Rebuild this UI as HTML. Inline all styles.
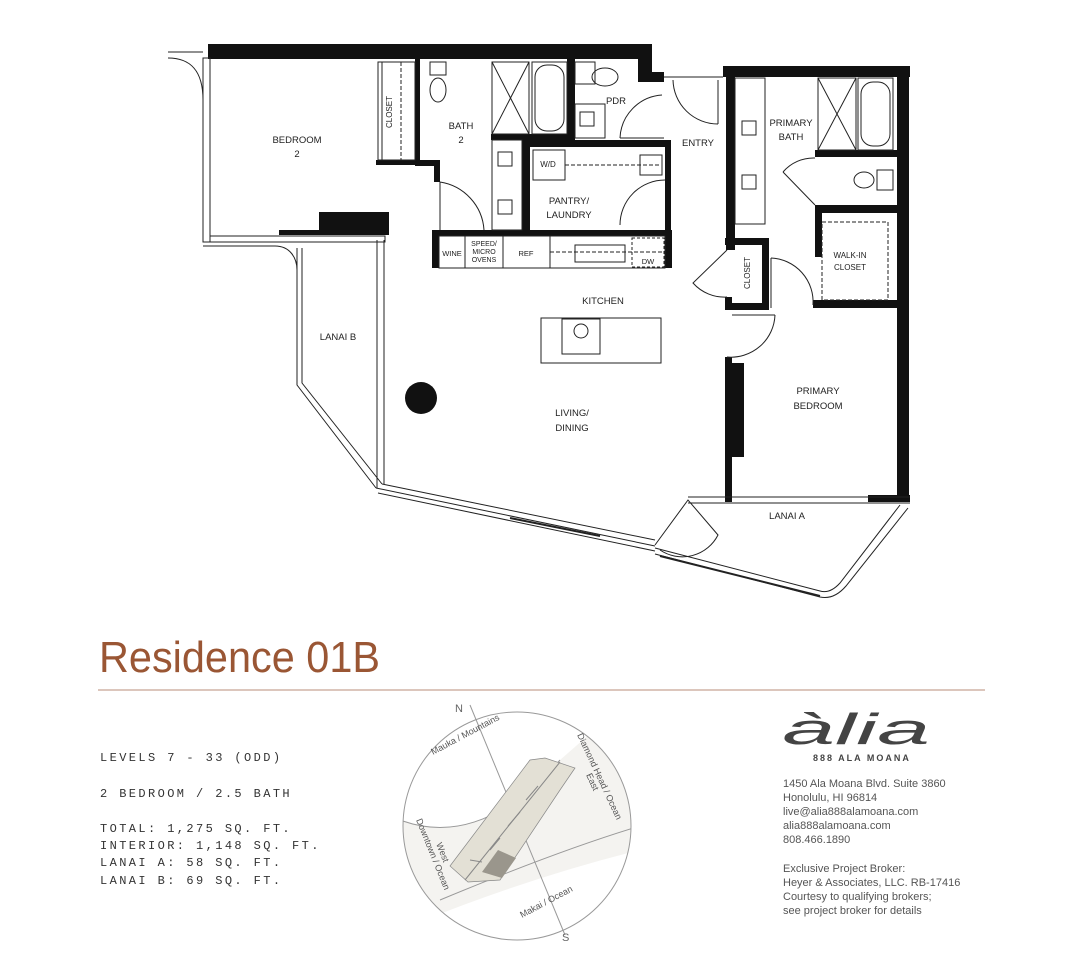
<!DOCTYPE html>
<html><head><meta charset="utf-8"><style>
html,body{margin:0;padding:0;background:#fff;}
svg{display:block;}
text{font-family:"Liberation Sans",sans-serif;}
.l{font-size:9.5px;fill:#222;text-anchor:middle;}
.m{font-family:"Liberation Mono",monospace;font-size:12px;letter-spacing:2.4px;fill:#333;}
.a{font-size:11px;fill:#555;}
</style></head><body>
<svg width="1080" height="966" viewBox="0 0 1080 966" xmlns="http://www.w3.org/2000/svg">
<rect width="1080" height="966" fill="#fff"/>
<g fill="#111">
<rect x="208" y="44" width="444" height="15"/>
<rect x="638" y="44" width="14" height="38"/>
<rect x="638" y="72" width="26" height="10"/>
<rect x="415" y="58" width="5" height="107"/>
<rect x="415" y="160" width="25" height="6"/>
<rect x="434" y="160" width="6" height="22"/>
<rect x="376" y="160" width="40" height="5"/>
<rect x="491" y="134" width="80" height="6"/>
<rect x="522" y="138" width="8" height="96"/>
<rect x="567" y="58" width="8" height="82"/>
<rect x="530" y="140" width="140" height="7"/>
<rect x="665" y="140" width="6" height="95"/>
<rect x="432" y="230" width="240" height="6"/>
<rect x="432" y="236" width="7" height="32"/>
<rect x="665" y="236" width="7" height="32"/>
<rect x="319" y="212" width="70" height="23"/>
<rect x="279" y="230" width="42" height="5"/>
<rect x="723" y="66" width="187" height="11"/>
<rect x="897" y="66" width="12" height="434"/>
<rect x="726" y="77" width="9" height="173"/>
<rect x="725" y="238" width="44" height="7"/>
<rect x="762" y="238" width="7" height="72"/>
<rect x="725" y="297" width="7" height="13"/>
<rect x="725" y="303" width="44" height="7"/>
<rect x="815" y="150" width="82" height="7"/>
<rect x="815" y="205" width="82" height="8"/>
<rect x="815" y="213" width="7" height="44"/>
<rect x="813" y="300" width="84" height="8"/>
<rect x="725" y="357" width="7" height="145"/>
<rect x="732" y="363" width="12" height="94"/>
<rect x="868" y="495" width="42" height="7"/>
<circle cx="421" cy="398" r="16"/>
</g>
<g fill="none" stroke="#222" stroke-width="1">
<rect x="203" y="58" width="7" height="184"/>
<path d="M203 242H385V236H210"/>
<path d="M168 52H203 M168 58C190 58 203 70 203 100"/>
<path d="M203 246H275C290 246 297 258 297 270"/>
<rect x="378" y="62" width="37" height="98"/>
<line x1="382" y1="62" x2="382" y2="160"/>
<line x1="401" y1="62" x2="401" y2="160" stroke-dasharray="4 2"/>
<ellipse cx="438" cy="90" rx="8" ry="12"/><rect x="430" y="62" width="16" height="13"/>
<rect x="492" y="62" width="37" height="72"/><path d="M492 62L529 134M529 62L492 134"/>
<rect x="532" y="62" width="35" height="72"/><rect x="535" y="65" width="29" height="66" rx="12"/>
<rect x="492" y="140" width="30" height="90"/>
<rect x="498" y="152" width="14" height="14"/><rect x="498" y="200" width="14" height="14"/>
<path d="M440 182A52 52 0 0 1 484 230"/><line x1="440" y1="182" x2="440" y2="230"/>
<rect x="575" y="62" width="20" height="22"/><ellipse cx="605" cy="77" rx="13" ry="9"/>
<rect x="575" y="104" width="30" height="34"/><rect x="580" y="112" width="14" height="14"/>
<path d="M620 138A45 45 0 0 1 662 95"/><line x1="620" y1="138" x2="664" y2="138"/>
<rect x="533" y="150" width="32" height="30"/>
<line x1="565" y1="165" x2="660" y2="165" stroke-dasharray="4 2"/>
<rect x="640" y="155" width="22" height="20"/>
<path d="M620 225A45 45 0 0 1 665 180"/>
<rect x="439" y="236" width="226" height="32"/>
<line x1="465" y1="236" x2="465" y2="268"/><line x1="503" y1="236" x2="503" y2="268"/>
<line x1="550" y1="236" x2="550" y2="268"/>
<line x1="550" y1="252" x2="665" y2="252" stroke-dasharray="4 2"/>
<rect x="575" y="245" width="50" height="17"/>
<rect x="632" y="238" width="32" height="29" stroke-dasharray="3 2"/>
<path d="M673 80A45 45 0 0 0 718 124"/><line x1="718" y1="80" x2="718" y2="124"/><line x1="664" y1="77" x2="723" y2="77"/>
<rect x="735" y="78" width="30" height="146"/>
<rect x="742" y="121" width="14" height="14"/><rect x="742" y="175" width="14" height="14"/>
<rect x="818" y="78" width="38" height="72"/><path d="M818 78L856 150M856 78L818 150"/>
<rect x="858" y="78" width="35" height="72"/><rect x="861" y="82" width="29" height="64" rx="12"/>
<ellipse cx="864" cy="180" rx="10" ry="8"/><rect x="877" y="170" width="16" height="20"/>
<path d="M783 172A40 40 0 0 1 815 158"/><line x1="783" y1="172" x2="815" y2="205"/>
<rect x="822" y="222" width="66" height="78" stroke-dasharray="4 2"/>
<path d="M727 250L693 283A42 42 0 0 0 727 297"/>
<path d="M771 258A44 44 0 0 1 813 305"/><line x1="771" y1="258" x2="771" y2="308"/>
<path d="M775 315A44 44 0 0 1 727 357"/><line x1="732" y1="315" x2="775" y2="315"/>
<rect x="541" y="318" width="120" height="45"/>
<rect x="562" y="319" width="38" height="35"/><ellipse cx="581" cy="331" rx="7" ry="7"/>
<path d="M297 248V385L376 488M302 248V383L382 484"/>
<path d="M377 240V488M384 240V484"/>
<path d="M376 488L655 546M382 484L655 540M378 493L655 551"/>
<path d="M655 548L820 591Q830 594 840 583L900 505M655 554L820 597Q834 600 846 586L908 508"/>
<path d="M688 497H910M688 503H910"/>
<path d="M655 545L688 500L718 535A40 40 0 0 1 660 550"/>
</g>
<g stroke="#222" stroke-width="2" fill="none"><path d="M510 518L600 536M660 556L820 596"/></g>
<text class="l" x="297" y="143">BEDROOM</text><text class="l" x="297" y="157">2</text>
<text class="l" x="461" y="129">BATH</text><text class="l" x="461" y="143">2</text>
<text class="l" x="616" y="104">PDR</text>
<text class="l" x="698" y="146">ENTRY</text>
<text class="l" x="791" y="126">PRIMARY</text><text class="l" x="791" y="140">BATH</text>
<text class="l" x="569" y="204">PANTRY/</text><text class="l" x="569" y="218">LAUNDRY</text>
<text class="l" x="548" y="167" style="font-size:8px">W/D</text>
<text class="l" x="452" y="256" style="font-size:7.5px">WINE</text>
<text class="l" x="484" y="246" style="font-size:7px">SPEED/</text><text class="l" x="484" y="254" style="font-size:7px">MICRO</text><text class="l" x="484" y="262" style="font-size:7px">OVENS</text>
<text class="l" x="526" y="256" style="font-size:7.5px">REF</text>
<text class="l" x="648" y="264" style="font-size:7.5px">DW</text>
<text class="l" x="850" y="258" style="font-size:8px">WALK-IN</text><text class="l" x="850" y="270" style="font-size:8px">CLOSET</text>
<text class="l" x="392" y="112" transform="rotate(-90 392 112)" style="font-size:8px">CLOSET</text>
<text class="l" x="750" y="273" transform="rotate(-90 750 273)" style="font-size:8px">CLOSET</text>
<text class="l" x="603" y="304">KITCHEN</text>
<text class="l" x="338" y="340">LANAI B</text>
<text class="l" x="572" y="416">LIVING/</text><text class="l" x="572" y="431">DINING</text>
<text class="l" x="818" y="394">PRIMARY</text><text class="l" x="818" y="409">BEDROOM</text>
<text class="l" x="787" y="519">LANAI A</text>
<text x="99" y="672" font-size="44" fill="#9a5634" textLength="281" lengthAdjust="spacingAndGlyphs">Residence 01B</text>
<line x1="98" y1="690" x2="985" y2="690" stroke="#b98c78" stroke-width="1"/>
<text class="m" x="100" y="761">LEVELS 7 - 33 (ODD)</text>
<text class="m" x="100" y="797">2 BEDROOM / 2.5 BATH</text>
<text class="m" x="100" y="832">TOTAL: 1,275 SQ. FT.</text>
<text class="m" x="100" y="849">INTERIOR: 1,148 SQ. FT.</text>
<text class="m" x="100" y="866">LANAI A: 58 SQ. FT.</text>
<text class="m" x="100" y="884">LANAI B: 69 SQ. FT.</text>
<defs><clipPath id="c"><circle cx="517" cy="826" r="114"/></clipPath></defs>
<g clip-path="url(#c)">
<path d="M400 820Q480 850 560 760L640 690V850Q520 880 400 930Z" fill="#f4f3f0"/>
<path d="M400 820Q480 850 560 760" fill="none" stroke="#999"/>
<path d="M440 900Q560 850 640 826" fill="none" stroke="#999"/>
</g>
<circle cx="517" cy="826" r="114" fill="none" stroke="#999"/>
<line x1="470" y1="705" x2="565" y2="935" stroke="#999"/>
<g fill="#e3e0d5" stroke="#888" stroke-width="0.7">
<path d="M450 866L530 760L545 758L575 768L560 790L500 880L468 882Z"/>
</g>
<path d="M482 862L470 860M490 850L500 838M508 826L520 812M526 800L538 786" stroke="#888" fill="none"/>
<line x1="465" y1="880" x2="560" y2="762" stroke="#888"/>
<path d="M482 872L498 850L516 858L502 878Z" fill="#9a968c"/>
<text x="455" y="712" font-size="11" fill="#666">N</text>
<text x="562" y="941" font-size="11" fill="#666">S</text>
<g font-size="9" fill="#555">
<text x="433" y="755" transform="rotate(-28 433 755)">Mauka / Mountains</text>
<text x="577" y="735" transform="rotate(65 577 735)">Diamond Head / Ocean</text>
<text x="586" y="775" transform="rotate(65 586 775)">East</text>
<text x="416" y="820" transform="rotate(68 416 820)">Downtown / Ocean</text>
<text x="436" y="844" transform="rotate(68 436 844)">West</text>
<text x="522" y="918" transform="rotate(-28 522 918)">Makai / Ocean</text>
</g>
<text x="782" y="744" font-family="'Liberation Serif',serif" font-style="italic" font-size="44" fill="#444" textLength="148" lengthAdjust="spacingAndGlyphs">àlia</text>
<text x="813" y="761" font-size="9" fill="#444" letter-spacing="2" font-weight="bold">888 ALA MOANA</text>
<g class="a">
<text x="783" y="787">1450 Ala Moana Blvd. Suite 3860</text>
<text x="783" y="801">Honolulu, HI 96814</text>
<text x="783" y="815">live@alia888alamoana.com</text>
<text x="783" y="829">alia888alamoana.com</text>
<text x="783" y="843">808.466.1890</text>
<text x="783" y="872">Exclusive Project Broker:</text>
<text x="783" y="886">Heyer &amp; Associates, LLC. RB-17416</text>
<text x="783" y="900">Courtesy to qualifying brokers;</text>
<text x="783" y="914">see project broker for details</text>
</g>
</svg>
</body></html>
